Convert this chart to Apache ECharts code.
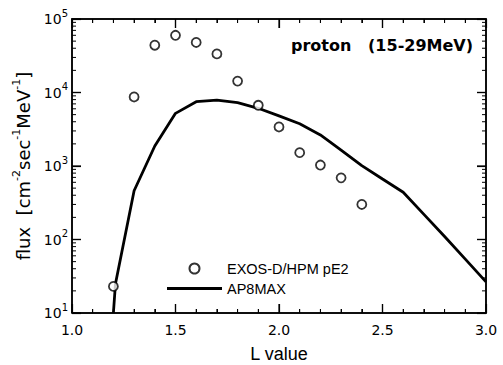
<!DOCTYPE html>
<html>
<head>
<meta charset="utf-8">
<script src="https://cdn.jsdelivr.net/npm/echarts@6/dist/echarts.min.js"></script>
<style>
html,body{margin:0;padding:0;background:#fff;overflow:hidden;}
#chart{width:503px;height:365px;}
</style>
</head>
<body>
<div id="chart"></div>
<script>
// Observed data (EXOS-D/HPM pE2)
var obsL = [1.2, 1.3, 1.4, 1.5, 1.6, 1.7, 1.8, 1.9, 2.0, 2.1, 2.2, 2.3, 2.4];
var obsFlux = [23, 8700, 44000, 60000, 48000, 33500, 14300, 6700, 3400, 1520, 1030, 690, 300];
// Model (AP8MAX)
var modelL = [1.2, 1.21, 1.3, 1.4, 1.5, 1.6, 1.7, 1.8, 1.9, 2.0, 2.1, 2.2, 2.3, 2.4, 2.5, 2.6, 2.7, 2.8, 2.9, 3.0];
var modelFlux = [10, 25, 460, 1870, 5200, 7500, 7900, 7300, 6100, 4800, 3750, 2650, 1650, 1010, 665, 440, 220, 110, 54, 26.5];
// Axis ticks
var xMajorTicks = [1.0, 1.5, 2.0, 2.5, 3.0];
var xMinorTicks = [1.1, 1.2, 1.3, 1.4, 1.6, 1.7, 1.8, 1.9, 2.1, 2.2, 2.3, 2.4, 2.6, 2.7, 2.8, 2.9];
var yDecades = [10, 100, 1000, 10000, 100000];
var yMinorTicks = [];
for (var d = 0; d < yDecades.length - 1; d++) {
  for (var m = 2; m <= 9; m++) yMinorTicks.push(m * yDecades[d]);
}
var seriesNames = ['EXOS-D/HPM pE2', 'AP8MAX'];
var titleText = 'proton   (15-29MeV)';

function zip(a, b) { return a.map(function (v, i) { return [v, b[i]]; }); }

var black = '#000';
var chart = echarts.init(document.getElementById('chart'), null, {renderer: 'svg'});

function xAx(pos, labels) {
  return {
    type: 'value', position: pos, min: 1, max: 3, interval: 0.5, z: 10,
    axisLine: {show: true, onZero: false, lineStyle: {color: black, width: 1.5}},
    axisTick: {show: true, inside: true, length: 9, lineStyle: {color: black, width: 1.2}},
    minorTick: {show: true, splitNumber: 5, length: 4, lineStyle: {color: black, width: 1}},
    splitLine: {show: false},
    axisLabel: {show: labels, margin: 10, fontFamily: 'DejaVu Sans', fontSize: 14, color: black,
      formatter: function (v) { return v.toFixed(1); }},
    name: labels ? 'L value' : '', nameLocation: 'middle', nameGap: 32,
    nameTextStyle: {fontFamily: 'Liberation Sans', fontSize: 18, color: black}
  };
}
function yAx(pos, labels) {
  return {
    type: 'log', logBase: 10, position: pos, min: 10, max: 100000, z: 10,
    axisLine: {show: true, onZero: false, lineStyle: {color: black, width: 1.5}},
    axisTick: {show: true, inside: true, length: 9, lineStyle: {color: black, width: 1.2}},
    splitLine: {show: false},
    axisLabel: {show: labels, margin: 4, color: black,
      formatter: function (v) { return '{a|10}{s|' + Math.round(Math.log10(v)) + '}'; },
      rich: {
        a: {fontFamily: 'DejaVu Sans', fontSize: 14, color: black, lineHeight: 22},
        s: {fontFamily: 'DejaVu Sans', fontSize: 10, color: black, verticalAlign: 'top', lineHeight: 10}
      }},
    name: labels ? '{t|flux  [cm}{s|-2}{t|sec}{s|-1}{t|MeV}{s|-1}{t|]}' : '',
    nameLocation: 'middle', nameGap: 30, nameRotate: 90,
    nameTextStyle: {rich: {
      t: {fontFamily: 'DejaVu Sans', fontSize: 18, color: black, lineHeight: 26},
      s: {fontFamily: 'DejaVu Sans', fontSize: 11, color: black, verticalAlign: 'top', lineHeight: 11}
    }}
  };
}

var option = {
  backgroundColor: '#fff',
  animation: false,
  grid: {left: 72, right: 17, top: 19, bottom: 52, outerBoundsMode: 'none', containLabel: false, show: false},
  title: {
    text: titleText, right: 30, top: 37, padding: 0,
    textStyle: {fontFamily: 'DejaVu Sans', fontWeight: 'bold', fontSize: 16, color: black}
  },
  legend: {
    orient: 'vertical', left: 167, top: 261, itemWidth: 55, itemHeight: 10, itemGap: 5,
    padding: 0,
    textStyle: {fontFamily: 'Liberation Sans', fontSize: 14.5, color: black},
    data: [
      {name: seriesNames[0]},
      {name: seriesNames[1], icon: 'path://M0,0L0.01,0L0.01,0.01Z M0,3.6L55,3.6L55,6.4L0,6.4Z M54.99,10L55,10L55,9.99Z'}
    ]
  },
  xAxis: [xAx('bottom', true), xAx('top', false)],
  yAxis: [yAx('left', true), yAx('right', false)],
  series: [
    {
      name: seriesNames[0], type: 'scatter', xAxisIndex: 0, yAxisIndex: 0,
      symbol: 'circle', symbolSize: 9,
      itemStyle: {color: '#fff', borderColor: black, borderWidth: 1.8},
      data: zip(obsL, obsFlux), z: 3
    },
    {
      name: seriesNames[1], type: 'line', xAxisIndex: 0, yAxisIndex: 0,
      symbol: 'none', smooth: false,
      lineStyle: {color: black, width: 2.8}, itemStyle: {color: black},
      data: zip(modelL, modelFlux), z: 2
    }
  ]
};
chart.setOption(option);

// Frame and ticks placed through the library's own scales (convertToPixel)
function px(x, y) { return chart.convertToPixel({xAxisIndex: 0, yAxisIndex: 0}, [x, y]); }
var bl = px(1, 10), tr = px(3, 100000);
var els = [];
function seg(p1, p2, w) {
  els.push({type: 'polyline', silent: true, z: 100,
    shape: {points: [p1, p2]}, style: {stroke: black, lineWidth: w, fill: 'none'}});
}
els.push({type: 'polyline', silent: true, z: 100,
  shape: {points: [[bl[0], bl[1]], [tr[0], bl[1]], [tr[0], tr[1]], [bl[0], tr[1]], [bl[0], bl[1]]]},
  style: {stroke: black, lineWidth: 1.5, fill: 'none'}});
xMajorTicks.forEach(function (v) {
  var x = px(v, 10)[0];
  seg([x, bl[1]], [x, bl[1] - 9], 1.2); seg([x, tr[1]], [x, tr[1] + 9], 1.2);
});
xMinorTicks.forEach(function (v) {
  var x = px(v, 10)[0];
  seg([x, bl[1]], [x, bl[1] - 4], 1); seg([x, tr[1]], [x, tr[1] + 4], 1);
});
yDecades.forEach(function (v) {
  var y = px(1, v)[1];
  seg([bl[0], y], [bl[0] + 9, y], 1.2); seg([tr[0], y], [tr[0] - 9, y], 1.2);
});
yMinorTicks.forEach(function (v) {
  var y = px(1, v)[1];
  seg([bl[0], y], [bl[0] + 4, y], 1); seg([tr[0], y], [tr[0] - 4, y], 1);
});
chart.setOption({graphic: {elements: els}});
</script>
</body>
</html>
